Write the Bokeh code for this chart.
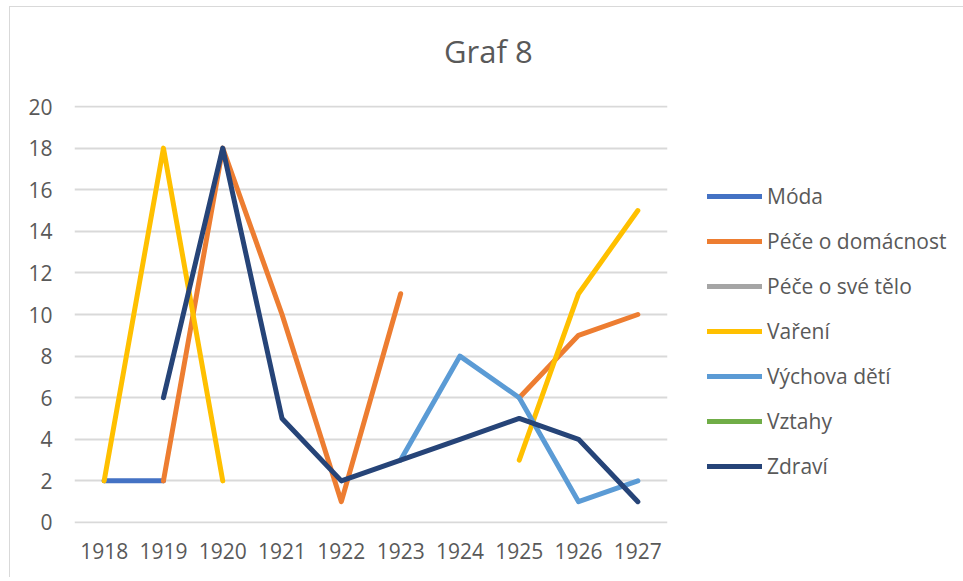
import math
from bokeh.plotting import figure
from bokeh.layouts import column
from bokeh.models import Legend, LegendItem, Range1d, Div
from bokeh.embed import file_html
from bokeh.resources import INLINE

nan = float("nan")

years = ["1918", "1919", "1920", "1921", "1922", "1923", "1924", "1925", "1926", "1927"]
moda = [2, 2, nan, nan, nan, nan, nan, nan, nan, nan]
pece_domacnost = [nan, 2, 18, 10, 1, 11, nan, 6, 9, 10]
pece_telo = [nan] * 10
vareni = [2, 18, 2, nan, nan, nan, nan, 3, 11, 15]
vychova = [nan, nan, nan, nan, nan, 3, 8, 6, 1, 2]
vztahy = [nan] * 10
zdravi = [nan, 6, 18, 5, 2, 3, 4, 5, 4, 1]

series_names = ["Móda", "Péče o domácnost", "Péče o své tělo", "Vaření",
                "Výchova dětí", "Vztahy", "Zdraví"]
series_values = [moda, pece_domacnost, pece_telo, vareni, vychova, vztahy, zdravi]
colors = ["#4472C4", "#ED7D31", "#A5A5A5", "#FFC000", "#5B9BD5", "#70AD47", "#264478"]
y_ticks = list(range(0, 21, 2))
title_text = "Graf 8"

FONT = "Open Sans"
TXT = "#595959"

p = figure(x_range=years, y_range=Range1d(-0.05, 20.05),
           frame_width=593, frame_height=418,
           output_backend="svg", toolbar_location=None,
           min_border_left=64, min_border_right=280, min_border_top=18, min_border_bottom=54)
p.outline_line_color = None
p.background_fill_color = "white"
p.border_fill_color = "white"

p.xgrid.grid_line_color = None
p.ygrid.grid_line_color = "#d9d9d9"
p.ygrid.grid_line_width = 2
p.yaxis.ticker = y_ticks

for ax in (p.xaxis, p.yaxis):
    ax.axis_line_color = None
    ax.major_tick_line_color = None
    ax.minor_tick_line_color = None
    ax.major_tick_out = 0
    ax.major_tick_in = 0
    ax.minor_tick_out = 0
    ax.major_label_text_font = FONT
    ax.major_label_text_font_size = "21px"
    ax.major_label_text_color = TXT
p.yaxis.major_label_standoff = 22
p.xaxis.major_label_standoff = 19

items = []
for name, vals, col in zip(series_names, series_values, colors):
    r = p.line(x=years, y=vals, line_color=col, line_width=5,
               line_cap="round", line_join="round")
    items.append(LegendItem(label=name, renderers=[r]))

legend = Legend(items=items, location=(40, 43), padding=0, margin=0,
                border_line_color=None, background_fill_alpha=0,
                glyph_width=55, glyph_height=24, label_height=24, spacing=17,
                label_standoff=5, label_text_font=FONT, label_text_font_size="21px",
                label_text_color=TXT)
p.add_layout(legend, "right")

title_div = Div(
    text=('<div style="font-family:\'Open Sans\';font-size:31px;color:#595959;'
          'line-height:42px;padding-top:23px;padding-left:434px;white-space:nowrap">'
          + title_text + '</div>'),
    width=900, height=80, margin=0)

layout = column(title_div, p, spacing=0,
                styles={"margin-left": "9px", "margin-top": "6px",
                        "border-left": "1px solid #d9d9d9",
                        "border-top": "1px solid #d9d9d9",
                        "background-color": "white"})

open("out.html", "w").write(file_html(layout, INLINE))
